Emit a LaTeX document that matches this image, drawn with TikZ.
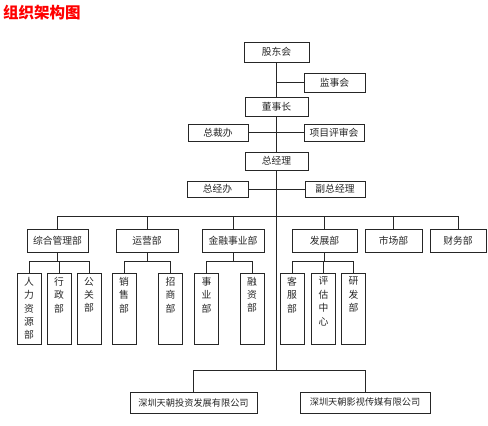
\documentclass[tikz,border=0pt]{standalone}
\usepackage{fontspec}
\setmainfont{Noto Sans CJK SC}
\newcommand\vtext[1]{\parbox[c][63pt][t]{14pt}{\centering\fontsize{9.8}{13.4}\selectfont #1}}
\begin{document}
\begin{tikzpicture}[x=1pt,y=-1pt,
  box/.style={draw=black!85, line width=0.75pt, inner sep=0pt, text=black!85, font=\fontsize{9.8}{11}\selectfont},
  tall/.style={box, minimum width=24pt, minimum height=71pt},
  dept/.style={box, minimum height=23pt},
  ln/.style={draw=black!85, line width=0.75pt}]
\useasboundingbox (0,0) rectangle (488,426);
% title
\node[anchor=west, text=red, font=\fontsize{15.5}{17}\selectfont\bfseries, inner sep=0pt] (title) at (3,13) {组织架构图};
% top levels
\node[box, minimum width=65pt, minimum height=20pt] (gd) at (276.5,52) {股东会};
\node[box, minimum width=61pt, minimum height=19pt] (js) at (334.5,82.5) {监事会};
\node[box, minimum width=63pt, minimum height=19pt] (dsz) at (276.5,106.5) {董事长};
\node[box, minimum width=60pt, minimum height=17pt] (zcb) at (218,132.5) {总裁办};
\node[box, minimum width=60pt, minimum height=17pt] (xm) at (334,132.5) {项目评审会};
\node[box, minimum width=63pt, minimum height=18pt] (zjl) at (276.5,161) {总经理};
\node[box, minimum width=61pt, minimum height=16pt] (zjb) at (217.5,189) {总经办};
\node[box, minimum width=60pt, minimum height=16pt] (fz) at (335,189) {副总经理};
% departments
\node[dept, minimum width=61pt] (zh) at (57.5,240.5) {综合管理部};
\node[dept, minimum width=62pt] (yy) at (147,240.5) {运营部};
\node[dept, minimum width=62pt] (jr) at (233,240.5) {金融事业部};
\node[dept, minimum width=65pt] (fzb) at (324.5,240.5) {发展部};
\node[dept, minimum width=57pt] (sc) at (393.5,240.5) {市场部};
\node[dept, minimum width=56pt] (cw) at (458,240.5) {财务部};
% sub departments
\node[tall] (rl) at (29,308.5) {\vtext{人\\力\\资\\源\\部}};
\node[tall] (xz) at (59,308.5) {\vtext{行\\政\\部}};
\node[tall] (gg) at (89,308.5) {\vtext{公\\关\\部}};
\node[tall] (xs) at (124,308.5) {\vtext{销\\售\\部}};
\node[tall] (zs) at (170.5,308.5) {\vtext{招\\商\\部}};
\node[tall] (sy) at (206.5,308.5) {\vtext{事\\业\\部}};
\node[tall] (rz) at (252,308.5) {\vtext{融\\资\\部}};
\node[tall] (kf) at (292,308.5) {\vtext{客\\服\\部}};
\node[tall] (pg) at (323.5,308.5) {\vtext{评\\估\\中\\心}};
\node[tall] (yf) at (353.5,308.5) {\vtext{研\\发\\部}};
% companies
\node[box, minimum width=127pt, minimum height=21pt, font=\fontsize{9.2}{11}\selectfont] (co1) at (193.5,402.5) {深圳天朝投资发展有限公司};
\node[box, minimum width=130pt, minimum height=21pt, font=\fontsize{9.2}{11}\selectfont] (co2) at (365,402.5) {深圳天朝影视传媒有限公司};
% coordinates
\coordinate (bus) at (0,216);
\coordinate (sub) at (0,261);
\coordinate (m) at (276.5,370);
% connectors
\draw[ln] (gd.south) -- (dsz.north);
\draw[ln] (js.west) -- (js.west -| gd.south);
\draw[ln] (dsz.south) -- (zjl.north);
\draw[ln] (zcb.east) -- (xm.west);
\draw[ln] (zjb.east) -- (fz.west);
\draw[ln] (zjl.south) -- (m);
\draw[ln] (zh.north) -- (zh.north |- bus) -- (cw.north |- bus) -- (cw.north);
\foreach \d in {yy,jr,fzb,sc}{\draw[ln] (\d.north) -- (\d.north |- bus);}
% sub buses
\draw[ln] (zh.south) -- (zh.south |- sub);
\draw[ln] (rl.north) -- (rl.north |- sub) -- (gg.north |- sub) -- (gg.north);
\draw[ln] (xz.north) -- (xz.north |- sub);
\draw[ln] (yy.south) -- (yy.south |- sub);
\draw[ln] (xs.north) -- (xs.north |- sub) -- (zs.north |- sub) -- (zs.north);
\draw[ln] (jr.south) -- (jr.south |- sub);
\draw[ln] (sy.north) -- (sy.north |- sub) -- (rz.north |- sub) -- (rz.north);
\draw[ln] (fzb.south) -- (fzb.south |- sub);
\draw[ln] (kf.north) -- (kf.north |- sub) -- (yf.north |- sub) -- (yf.north);
\draw[ln] (pg.north) -- (pg.north |- sub);
% companies
\draw[ln] (co1.north) -- (co1.north |- m) -- (co2.north |- m) -- (co2.north);
\end{tikzpicture}
\end{document}
